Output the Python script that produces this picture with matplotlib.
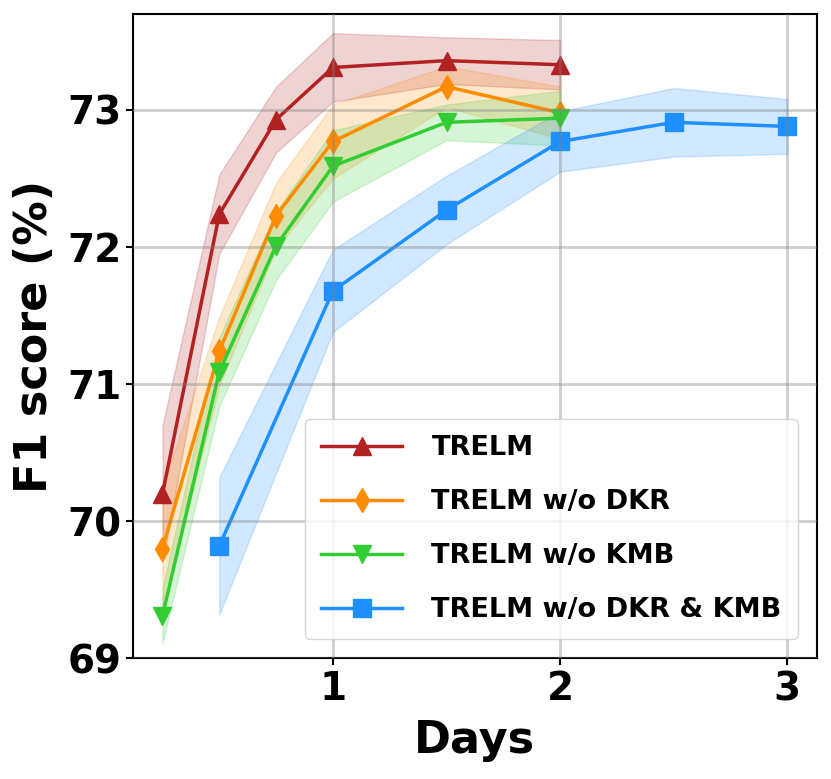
import matplotlib
matplotlib.use("Agg")
import matplotlib.pyplot as plt
import numpy as np

days = [0.25, 0.5, 0.75, 1, 1.5, 2]
trelm = [70.20, 72.24, 72.93, 73.31, 73.36, 73.33]
trelm_std = [0.50, 0.29, 0.24, 0.25, 0.17, 0.18]
dkr = [69.80, 71.24, 72.23, 72.77, 73.17, 72.98]
dkr_std = [0.45, 0.25, 0.24, 0.27, 0.15, 0.19]
kmb = [69.31, 71.09, 72.01, 72.59, 72.91, 72.94]
kmb_std = [0.20, 0.25, 0.25, 0.26, 0.13, 0.20]
days_base = [0.5, 1, 1.5, 2, 2.5, 3]
base = [69.82, 71.68, 72.27, 72.77, 72.91, 72.88]
base_std = [0.50, 0.30, 0.25, 0.22, 0.25, 0.20]

labels = ["TRELM", "TRELM w/o DKR", "TRELM w/o KMB", "TRELM w/o DKR & KMB"]
colors = ["#B22222", "#FF8C00", "#32CD32", "#1E90FF"]
markers = ["^", "d", "v", "s"]
xticks = [1, 2, 3]
yticks = [69, 70, 71, 72, 73]

series = [(days, trelm, trelm_std), (days, dkr, dkr_std),
          (days, kmb, kmb_std), (days_base, base, base_std)]

fig = plt.figure(figsize=(8.31, 7.79), dpi=100)
ax = fig.add_axes([0.160, 0.155, 0.823, 0.827])

for (x, y, s), lab, c, m in zip(series, labels, colors, markers):
    x = np.array(x); y = np.array(y); s = np.array(s)
    ax.fill_between(x, y - s, y + s, color=c, alpha=0.2, linewidth=1)
    ax.plot(x, y, color=c, marker=m, markersize=12.5, linewidth=2.5, label=lab)

ax.set_xlim(0.12, 3.13)
ax.set_ylim(69, 73.7)
ax.set_xticks(xticks)
ax.set_yticks(yticks)
ax.set_axisbelow(False)
ax.grid(True, color="gray", alpha=0.38, linewidth=2)
for sp in ax.spines.values():
    sp.set_linewidth(1.5)
ax.tick_params(labelsize=28, width=1.5, length=5)
for t in ax.get_xticklabels() + ax.get_yticklabels():
    t.set_fontweight("bold")
ax.set_xlabel("Days", fontsize=32, fontweight="bold", labelpad=8)
ax.set_ylabel("F1 score (%)", fontsize=32, fontweight="bold", labelpad=8)

leg = ax.legend(loc="lower right", prop={"size": 19.5, "weight": "bold"},
                handlelength=3.0, labelspacing=1.03, handletextpad=1.07,
                borderaxespad=0.7, framealpha=0.8, borderpad=0.6)
leg.set_zorder(5)

fig.savefig("out.png", dpi=100)
